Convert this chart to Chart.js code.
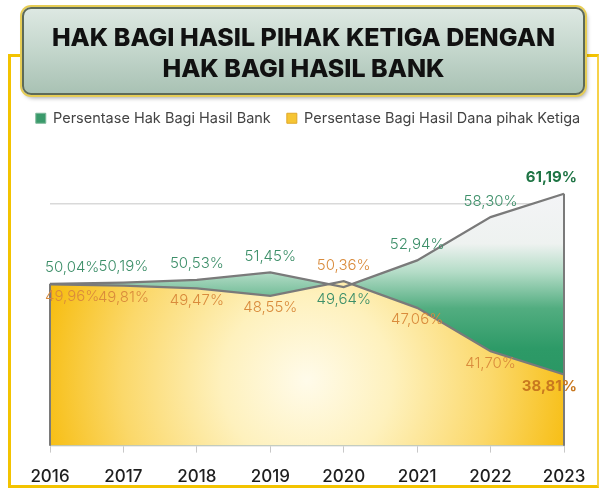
<!DOCTYPE html>
<html><head><meta charset="utf-8">
<script src="https://cdn.jsdelivr.net/npm/chart.js@4/dist/chart.umd.min.js"></script>
<style>
html,body{margin:0;padding:0;background:#fff;width:604px;height:490px;overflow:hidden;}
#frame{position:absolute;left:8px;top:54px;width:586px;height:428px;border:3px solid #f3c300;border-right:2px solid #f6d24a;background:#fff;}
#title{position:absolute;left:22px;top:7px;width:563px;height:88px;border-radius:9px;
 background:linear-gradient(180deg,#dde8e2 0%,#c6d8ce 45%,#a9c2b4 100%);
 border:2px solid #5d6a58;box-shadow:0 0 0 2px #e6cd55,2px 3px 4px rgba(0,0,0,.35);
 font-family:Inter,"DejaVu Sans",sans-serif;font-weight:800;font-size:25px;line-height:31px;color:#111;text-align:center;
 padding-top:13px;box-sizing:border-box;letter-spacing:0px;}
#c{position:absolute;left:0;top:0;}
</style></head>
<body>
<div id="frame"></div>
<canvas id="c" width="604" height="490"></canvas>
<div id="title">HAK BAGI HASIL PIHAK KETIGA DENGAN<br>HAK BAGI HASIL BANK</div>
<script>
const years = ['2016','2017','2018','2019','2020','2021','2022','2023'];
const bankShare = [50.04, 50.19, 50.53, 51.45, 49.64, 52.94, 58.30, 61.19];
const thirdPartyShare = [49.96, 49.81, 49.47, 48.55, 50.36, 47.06, 41.70, 38.81];
const seriesNames = ['Persentase Hak Bagi Hasil Bank', 'Persentase Bagi Hasil Dana pihak Ketiga'];

const fmt = v => v.toFixed(2).replace('.', ',') + '%';

function greenGrad(ctx) {
  const chart = ctx.chart; const a = chart.chartArea; if (!a) return '#2f9c68';
  const y = chart.scales.y;
  const p0 = y.getPixelForValue(62), p1 = y.getPixelForValue(30);
  const g = chart.ctx.createLinearGradient(0, p0, 0, p1);
  const stop = v => (y.getPixelForValue(v) - p0) / (p1 - p0);
  g.addColorStop(0, '#f4f4f7');
  g.addColorStop(stop(55), '#eef2f0');
  g.addColorStop(stop(51.5), '#b4dcc7');
  g.addColorStop(stop(47), '#52ad80');
  g.addColorStop(stop(42), '#2d9a67');
  g.addColorStop(1, '#238f5c');
  return g;
}
function yellowGrad(ctx) {
  const chart = ctx.chart; const a = chart.chartArea; if (!a) return '#f7c62f';
  const cx = (a.left + a.right) / 2, cy = a.bottom - 65;
  const g = chart.ctx.createRadialGradient(cx, cy, 0, cx, cy, 285);
  g.addColorStop(0, '#fffbea');
  g.addColorStop(0.3, '#fef1bd');
  g.addColorStop(0.65, '#fbd86a');
  g.addColorStop(1, '#f6b800');
  return g;
}

const edgePlugin = {
  id: 'edges',
  afterDatasetsDraw(chart) {
    const ctx = chart.ctx, a = chart.chartArea;
    ctx.save();
    ctx.strokeStyle = '#7a7a7a'; ctx.lineWidth = 2;
    chart.data.datasets.forEach((ds, di) => {
      const pts = chart.getDatasetMeta(di).data;
      [pts[0], pts[pts.length - 1]].forEach(p => {
        ctx.beginPath(); ctx.moveTo(p.x, p.y); ctx.lineTo(p.x, a.bottom); ctx.stroke();
      });
    });
    ctx.restore();
  }
};

const labelPlugin = {
  id: 'valueLabels',
  afterDraw(chart) {
    const ctx = chart.ctx, a = chart.chartArea;
    const sets = chart.data.datasets;
    ctx.save();
    ctx.textAlign = 'center'; ctx.textBaseline = 'middle';
    sets.forEach((ds, di) => {
      const other = sets[1 - di].data;
      chart.getDatasetMeta(di).data.forEach((pt, i) => {
        const v = ds.data[i];
        const last = i === ds.data.length - 1;
        const above = v >= other[i];
        ctx.font = (last ? '700 ' : '300 ') + '15px Inter, "DejaVu Sans", sans-serif';
        const txt = fmt(v);
        const w = ctx.measureText(txt).width;
        let x = Math.max(a.left - 5 + w / 2, Math.min(a.right + 13 - w / 2, pt.x));
        const y = above ? pt.y - 16 : pt.y + 12;
        if (di === 0) ctx.fillStyle = last ? '#1e7444' : '#3d8f69';
        else ctx.fillStyle = last ? '#c8781f' : '#d98b3c';
        ctx.fillText(txt, x, y);
      });
    });
    ctx.restore();
  }
};

const legendSpace = {
  id: 'legendSpace',
  beforeInit(chart) {
    const orig = chart.legend.fit;
    chart.legend.fit = function () { orig.call(this); this.height = 68; };
  }
};

new Chart(document.getElementById('c'), {
  type: 'line',
  data: {
    labels: years,
    datasets: [
      { label: seriesNames[0], data: bankShare, fill: 'origin', order: 2,
        backgroundColor: greenGrad, borderColor: '#7a7a7a', borderWidth: 2.2,
        pointRadius: 0, tension: 0 },
      { label: seriesNames[1], data: thirdPartyShare, fill: 'origin', order: 1,
        backgroundColor: yellowGrad, borderColor: '#7a7a7a', borderWidth: 2.2,
        pointRadius: 0, tension: 0 }
    ]
  },
  plugins: [legendSpace, edgePlugin, labelPlugin],
  options: {
    responsive: false, animation: false,
    layout: { padding: { top: 95, left: 12, right: 0, bottom: -11 } },
    plugins: {
      filler: { drawTime: 'beforeDatasetsDraw' },
      tooltip: { enabled: false },
      legend: {
        position: 'top', align: 'center',
        labels: {
          font: { family: 'Inter, "DejaVu Sans", sans-serif', size: 14.5 },
          color: '#444444', boxWidth: 10, boxHeight: 10, padding: 16,
          generateLabels(chart) {
            return chart.data.datasets.map((ds, i) => ({
              text: ds.label, datasetIndex: i,
              fillStyle: i === 0 ? '#3a9a6b' : '#f6c533',
              strokeStyle: i === 0 ? '#7fb99a' : '#e0a82a', lineWidth: 1,
              fontColor: '#444444'
            }));
          }
        }
      }
    },
    scales: {
      x: {
        offset: false,
        grid: { display: true, drawOnChartArea: false, tickLength: 7, color: '#c8c8c8' },
        border: { color: '#d0d0d0' },
        ticks: { color: '#1e1e1e', padding: 14, font: { family: 'Inter, "DejaVu Sans", sans-serif', size: 17, weight: 500 } }
      },
      y: {
        min: 30, max: 65,
        ticks: { display: false, stepSize: 10 },
        grid: { drawTicks: false, lineWidth: 1.5, color: c => (c.tick && c.tick.value % 10 === 0) ? '#d9d9d9' : 'rgba(0,0,0,0)' },
        border: { display: false },
        afterFit(s) { s.width = 38; }
      },
      y2: {
        position: 'right', display: true,
        ticks: { display: false },
        grid: { display: false, drawTicks: false },
        border: { display: false },
        afterFit(s) { s.width = 40; }
      }
    }
  }
});
</script>
</body></html>
